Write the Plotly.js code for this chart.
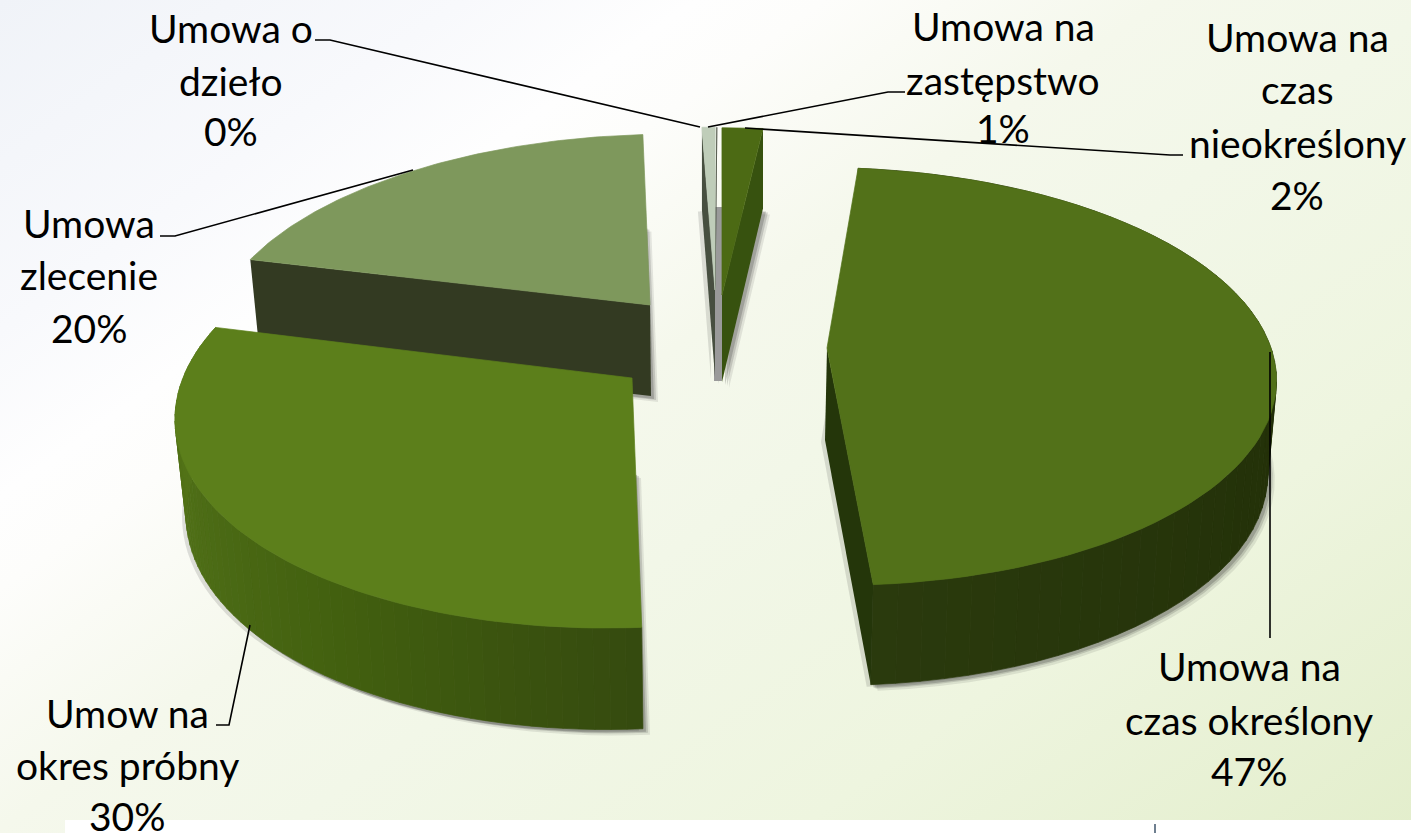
<!DOCTYPE html>
<html><head><meta charset="utf-8">
<script src="https://cdn.plot.ly/plotly-3.0.1.min.js"></script>
<style>
html,body{margin:0;padding:0;width:1411px;height:833px;overflow:hidden;
background:linear-gradient(144.5deg,#f0f3f8 0%,#f8f9fc 18%,#fefefe 27%,#fdfdfb 32%,#fafbf5 37%,#f5f8ec 45%,#f2f7e8 56%,#eef5df 76%,#e3eecc 100%);}
#chart{width:1411px;height:833px;}
</style></head><body><div id="chart"></div>
<script>
// ---- data ----
const categories = ['Umowa na czas nieokreślony','Umowa na czas określony','Umow na okres próbny','Umowa zlecenie','Umowa o dzieło','Umowa na zastępstwo'];
const values = [1.7, 47.3, 30, 20, 0.4, 0.6];
const labelLines = [
  ['Umowa na','czas','nieokreślony'],
  ['Umowa na','czas określony'],
  ['Umow na','okres próbny'],
  ['Umowa','zlecenie'],
  ['Umowa o','dzieło'],
  ['Umowa na','zastępstwo']
];
const labelX = [1297,1249,127,89,231,1003];
const labelY = [[37,89,143,195],[666,720,771],[713,765,816],[223,275,328],[28,81,131],[26,80,128]];
const topColors = ['#4c6a14','#527119','#5c7f1b','#7e985c','#474f40','#bfcdb9'];
const faceColors = ['#37520f','#24360a',null,'#333a22',null,'#474f40'];
const faceSide = ['end','end',null,'start',null,'start'];
const wallStops = [null,['#222f08','#222f08','#243209','#2a3a0d'],['#354a0f','#42600f','#4f6f17','#557518'],null,null,null];
// ---- pie geometry per exploded slice: top centre, radii, perspective, skew, bottom centre, bottom scales ----
const startAngle = -0.4;
const geometry = [
 {cx:722,cy:295,rx:437,ry:190,k:.136,sx:-3, bx:722,by:382,bs:1.042},
 {cx:827,cy:348,rx:444,ry:205,k:.136,sx:9,  bx:825,by:440,bs:1.034,bxs:.985},
 {cx:632,cy:378,rx:449,ry:216,k:.136,sx:-23,bx:634,by:472,bs:1.03,bxs:.98},
 {cx:650,cy:305,rx:431,ry:194,k:.136,sx:-22,bx:651,by:396,bs:1.0,bxs:.98},
 {cx:715,cy:290,rx:20, ry:185,k:.136,sx:-3, bx:715,by:377,bs:1.03},
 {cx:715,cy:290,rx:400,ry:185,k:.136,sx:-3, bx:715,by:377,bs:1.03}
];
const drawOrder = [3,4,5,0,1,2];
const leaders = [
 [[315,40],[330,40],[700,127]],
 [[708,127],[888,92],[905,92]],
 [[745,128],[1170,155],[1183,155]],
 [[160,236],[175,236],[413,170]],
 [[216,725],[229,725],[250,625]],
 [[1270,352],[1270,638]]
];
// ---- helpers ----
const total = values.reduce((a,b)=>a+b,0);
const spans = []; let acc = startAngle;
values.forEach(v=>{const s=v/total*360; spans.push([acc,acc+s]); acc+=s;});
function proj(g,deg,bottom){
  const t=deg*Math.PI/180,u=Math.sin(t),v=-Math.cos(t),s=1/(1-g.k*v),U=u*s,V=v*s;
  if(bottom){return [g.bx+g.rx*(g.bxs||1)*U+g.sx*V, g.by+g.ry*g.bs*V];}
  return [g.cx+g.rx*U+g.sx*V, g.cy+g.ry*V];
}
function arc(g,a,b,bottom,n){const p=[];for(let i=0;i<=n;i++)p.push(proj(g,a+(b-a)*i/n,bottom));return p;}
function hex(c){return [1,3,5].map(i=>parseInt(c.substr(i,2),16));}
function mix(stops,f){
  const x=f*(stops.length-1),i=Math.min(Math.floor(x),stops.length-2),w=x-i,a=hex(stops[i]),b=hex(stops[i+1]);
  return 'rgb('+a.map((c,j)=>Math.round(c+(b[j]-c)*w)).join(',')+')';
}
function poly(pts,color,edge){
  const xs=pts.map(p=>p[0]),ys=pts.map(p=>p[1]);xs.push(xs[0]);ys.push(ys[0]);
  return {type:'scatter',x:xs,y:ys,mode:edge?'lines':'none',fill:'toself',fillcolor:color,
          line:edge?{color:color,width:.7}:undefined,hoverinfo:'skip',showlegend:false};
}
const traces=[];
// soft shadows under the slices
[[7,6,.10],[5,4,.16],[3,3,.22],[-4,2,.14]].forEach(([dx,dy,al])=>{
  values.forEach((val,i)=>{
    const g=geometry[i],[a,b]=spans[i];
    if(i===4 || (dx<0 && i===3)) return;
    const pts=[[g.bx,g.by]].concat(arc(g,a,b,true,48)).map(p=>[p[0]+dx,p[1]+dy]);
    traces.push(poly(pts,'rgba(40,40,40,'+al+')'));
  });
});
// shade between the two thin slices
traces.push(poly([[714,207],[722,207],[722,381],[714,381]],'#9a9a9a'));
drawOrder.forEach(i=>{
  const g=geometry[i],[a,b]=spans[i];
  if(wallStops[i]){
    const n=60;
    for(let j=0;j<n;j++){
      const a0=a+(b-a)*j/n,a1=a+(b-a)*(j+1)/n;
      const c=mix(wallStops[i],(j+.5)/n);
      traces.push(poly([proj(g,a0,false),proj(g,a1,false),proj(g,a1,true),proj(g,a0,true)],c,true));
    }
  }
  if(faceSide[i]){
    const t=faceSide[i]==='end'?b:a;
    traces.push(poly([[g.cx,g.cy],proj(g,t,false),proj(g,t,true),[g.bx,g.by]],faceColors[i]));
  }
  traces.push(poly([[g.cx,g.cy]].concat(arc(g,a,b,false,80)),topColors[i],true));
});
const shapes=[
 {type:'rect',xref:'x',yref:'y',x0:65,x1:1411,y0:820,y1:833,fillcolor:'#ffffff',line:{width:0},layer:'below'},
 {type:'line',xref:'x',yref:'y',x0:1155,x1:1155,y0:824,y1:833,line:{color:'#6f7f90',width:2}}
];
leaders.forEach(l=>{
  shapes.push({type:'path',xref:'x',yref:'y',path:l.map((p,i)=>(i?'L':'M')+p[0]+' '+p[1]).join(' '),
    line:{color:'#000000',width:1.6},fillcolor:'rgba(0,0,0,0)',layer:'above'});
});
const annotations=[];
categories.forEach((c,i)=>{
  const lines=labelLines[i].concat([Math.round(values[i])+'%']);
  lines.forEach((t,j)=>annotations.push({xref:'x',yref:'y',x:labelX[i],y:labelY[i][j],text:t,showarrow:false,
    xanchor:'center',yanchor:'middle',font:{family:'Lato, "Open Sans", sans-serif',size:39,color:'#000000'}}));
});
Plotly.newPlot('chart',traces,{
  width:1411,height:833,margin:{l:0,r:0,t:0,b:0,pad:0},
  paper_bgcolor:'rgba(0,0,0,0)',plot_bgcolor:'rgba(0,0,0,0)',showlegend:false,
  xaxis:{range:[0,1411],visible:false,fixedrange:true},
  yaxis:{range:[833,0],visible:false,fixedrange:true},
  shapes:shapes,annotations:annotations,hovermode:false
},{displayModeBar:false,staticPlot:true});
</script></body></html>
